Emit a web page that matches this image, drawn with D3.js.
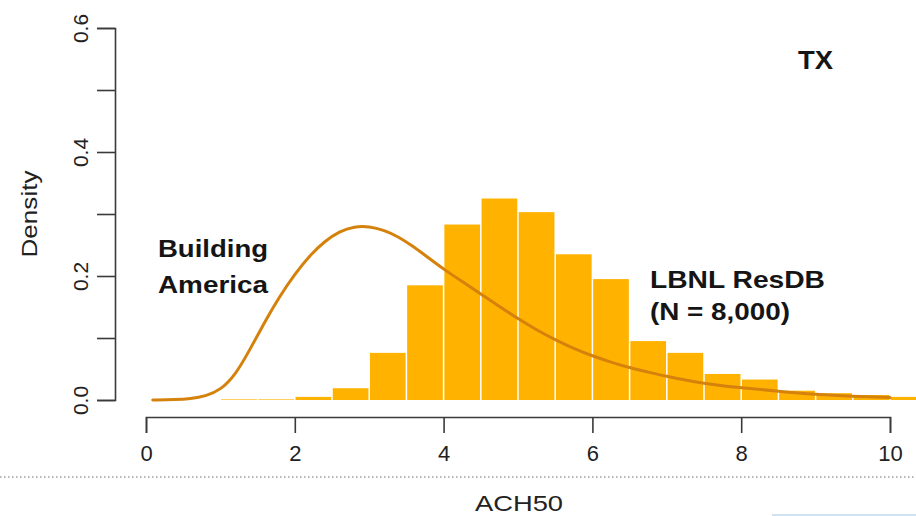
<!DOCTYPE html>
<html>
<head>
<meta charset="utf-8">
<script src="https://cdn.jsdelivr.net/npm/d3@7"></script>
<style>
  html, body { margin: 0; padding: 0; background: #fff; }
  svg { display: block; }
  text { font-family: "Liberation Sans", Arial, Helvetica, sans-serif; }
</style>
</head>
<body>
<svg id="chart" width="916" height="516"></svg>
<script>
// ---- data ----
const binStarts = [1.0, 1.5, 2.0, 2.5, 3.0, 3.5, 4.0, 4.5, 5.0, 5.5, 6.0, 6.5, 7.0, 7.5, 8.0, 8.5, 9.0, 9.5, 10.0];
const binDensity = [0.001, 0.001, 0.005, 0.019, 0.076, 0.185, 0.283, 0.325, 0.303, 0.235, 0.195, 0.095, 0.076, 0.042, 0.033, 0.015, 0.011, 0.008, 0.005];
const binWidth = 0.5;

const curveX = [0.09, 0.4, 0.6, 0.8, 1.0, 1.2, 1.4, 1.6, 1.8, 2.0, 2.2, 2.4, 2.6, 2.8, 3.0, 3.2, 3.4, 3.6, 3.8, 4.0, 4.25, 4.5, 4.75, 5.0, 5.25, 5.5, 5.75, 6.0, 6.25, 6.5, 6.75, 7.0, 7.25, 7.5, 7.75, 8.0, 8.5, 9.0, 9.5, 10.0];
const curveY = [0.0, 0.0005, 0.002, 0.006, 0.016, 0.040, 0.082, 0.127, 0.168, 0.203, 0.233, 0.256, 0.272, 0.280, 0.280, 0.274, 0.263, 0.247, 0.229, 0.211, 0.191, 0.171, 0.151, 0.131, 0.113, 0.097, 0.083, 0.071, 0.061, 0.052, 0.045, 0.038, 0.032, 0.027, 0.023, 0.020, 0.014, 0.009, 0.006, 0.004];

const xTicks = [0, 2, 4, 6, 8, 10];
const yTicks = [0, 0.1, 0.2, 0.3, 0.4, 0.5, 0.6];
const yLabelTicks = [0, 0.2, 0.4, 0.6];

const labelBA = ["Building", "America"];
const labelDB = ["LBNL ResDB", "(N = 8,000)"];
const stateLabel = "TX";
const xTitle = "ACH50";
const yTitle = "Density";

// ---- scales ----
const svg = d3.select("#chart");
const x = d3.scaleLinear().domain([0, 10]).range([146, 890]);
const y = d3.scaleLinear().domain([0, 0.6]).range([400, 28]);

const barColor = "#FFB300";
const lineColor = "#D5820C";
const axisColor = "#3a3a3a";
const textColor = "#151515";

// ---- bars ----
svg.append("g").selectAll("rect")
  .data(binStarts.map((s, i) => ({ s, v: binDensity[i] })))
  .join("rect")
  .attr("x", d => x(d.s) + 0.75)
  .attr("width", d => x(d.s + binWidth) - x(d.s) - 1.5)
  .attr("y", d => y(d.v))
  .attr("height", d => y(0) - y(d.v))
  .attr("fill", barColor);

// ---- curve ----
const line = d3.line()
  .x(d => x(d[0]))
  .y(d => y(d[1]))
  .curve(d3.curveBasis);
svg.append("path")
  .datum(curveX.map((v, i) => [v, curveY[i]]))
  .attr("d", line)
  .attr("fill", "none")
  .attr("stroke", lineColor)
  .attr("stroke-width", 3)
  .attr("stroke-linecap", "round");

// ---- x axis ----
const xAxis = d3.axisBottom(x).tickValues(xTicks).tickSize(16).tickSizeOuter(16).tickPadding(12).tickFormat(d3.format("d"));
const gx = svg.append("g").attr("transform", "translate(0,417)").call(xAxis);
gx.select(".domain").attr("stroke", axisColor).attr("stroke-width", 1.6);
gx.selectAll(".tick line").attr("stroke", axisColor).attr("stroke-width", 1.6);
gx.selectAll(".tick text")
  .attr("font-size", 22)
  .attr("fill", "#222")
  .attr("font-family", "'Liberation Sans', Arial, sans-serif")
  .attr("dy", "0.71em");

// ---- y axis ----
const yAxis = d3.axisLeft(y).tickValues(yTicks).tickSize(18).tickSizeOuter(18)
  .tickFormat(d => yLabelTicks.some(t => Math.abs(t - d) < 1e-9) ? d3.format(".1f")(d) : "");
const gy = svg.append("g").attr("transform", "translate(115,0)").call(yAxis);
gy.select(".domain").attr("stroke", axisColor).attr("stroke-width", 1.6);
gy.selectAll(".tick line").attr("stroke", axisColor).attr("stroke-width", 1.6);
gy.selectAll(".tick text")
  .attr("font-size", 21)
  .attr("fill", "#222")
  .attr("font-family", "'Liberation Sans', Arial, sans-serif")
  .attr("text-anchor", "middle")
  .attr("x", 0).attr("dy", 0)
  .attr("transform", "translate(-27,0) rotate(-90)");

// ---- axis titles ----
svg.append("text")
  .attr("transform", `translate(37,${y(0.3)})rotate(-90)`)
  .attr("text-anchor", "middle")
  .attr("font-size", 22)
  .attr("fill", "#222")
  .attr("textLength", 87).attr("lengthAdjust", "spacingAndGlyphs")
  .text(yTitle);

svg.append("text")
  .attr("x", 519).attr("y", 511)
  .attr("text-anchor", "middle")
  .attr("font-size", 22)
  .attr("fill", "#222")
  .attr("textLength", 88).attr("lengthAdjust", "spacingAndGlyphs")
  .text(xTitle);

// ---- dotted separator ----
svg.append("line")
  .attr("x1", 0).attr("x2", 916).attr("y1", 477).attr("y2", 477)
  .attr("stroke", "#6f6f6f").attr("stroke-width", 1.2)
  .attr("stroke-dasharray", "1.5,2.5");

// faint line at bottom right
svg.append("line")
  .attr("x1", 772).attr("x2", 916).attr("y1", 515).attr("y2", 515)
  .attr("stroke", "#cfe3f3").attr("stroke-width", 2);

// ---- annotations ----
const ann = svg.append("g").attr("fill", textColor).attr("font-weight", "bold");
ann.append("text").attr("x", 158).attr("y", 257).attr("font-size", 24)
  .attr("textLength", 110).attr("lengthAdjust", "spacingAndGlyphs").text(labelBA[0]);
ann.append("text").attr("x", 158).attr("y", 293).attr("font-size", 24)
  .attr("textLength", 110).attr("lengthAdjust", "spacingAndGlyphs").text(labelBA[1]);
ann.append("text").attr("x", 650).attr("y", 288).attr("font-size", 24)
  .attr("textLength", 175).attr("lengthAdjust", "spacingAndGlyphs").text(labelDB[0]);
ann.append("text").attr("x", 650).attr("y", 320).attr("font-size", 24)
  .attr("textLength", 140).attr("lengthAdjust", "spacingAndGlyphs").text(labelDB[1]);
ann.append("text").attr("x", 798).attr("y", 69).attr("font-size", 25)
  .attr("textLength", 35).attr("lengthAdjust", "spacingAndGlyphs").text(stateLabel);
</script>
</body>
</html>
